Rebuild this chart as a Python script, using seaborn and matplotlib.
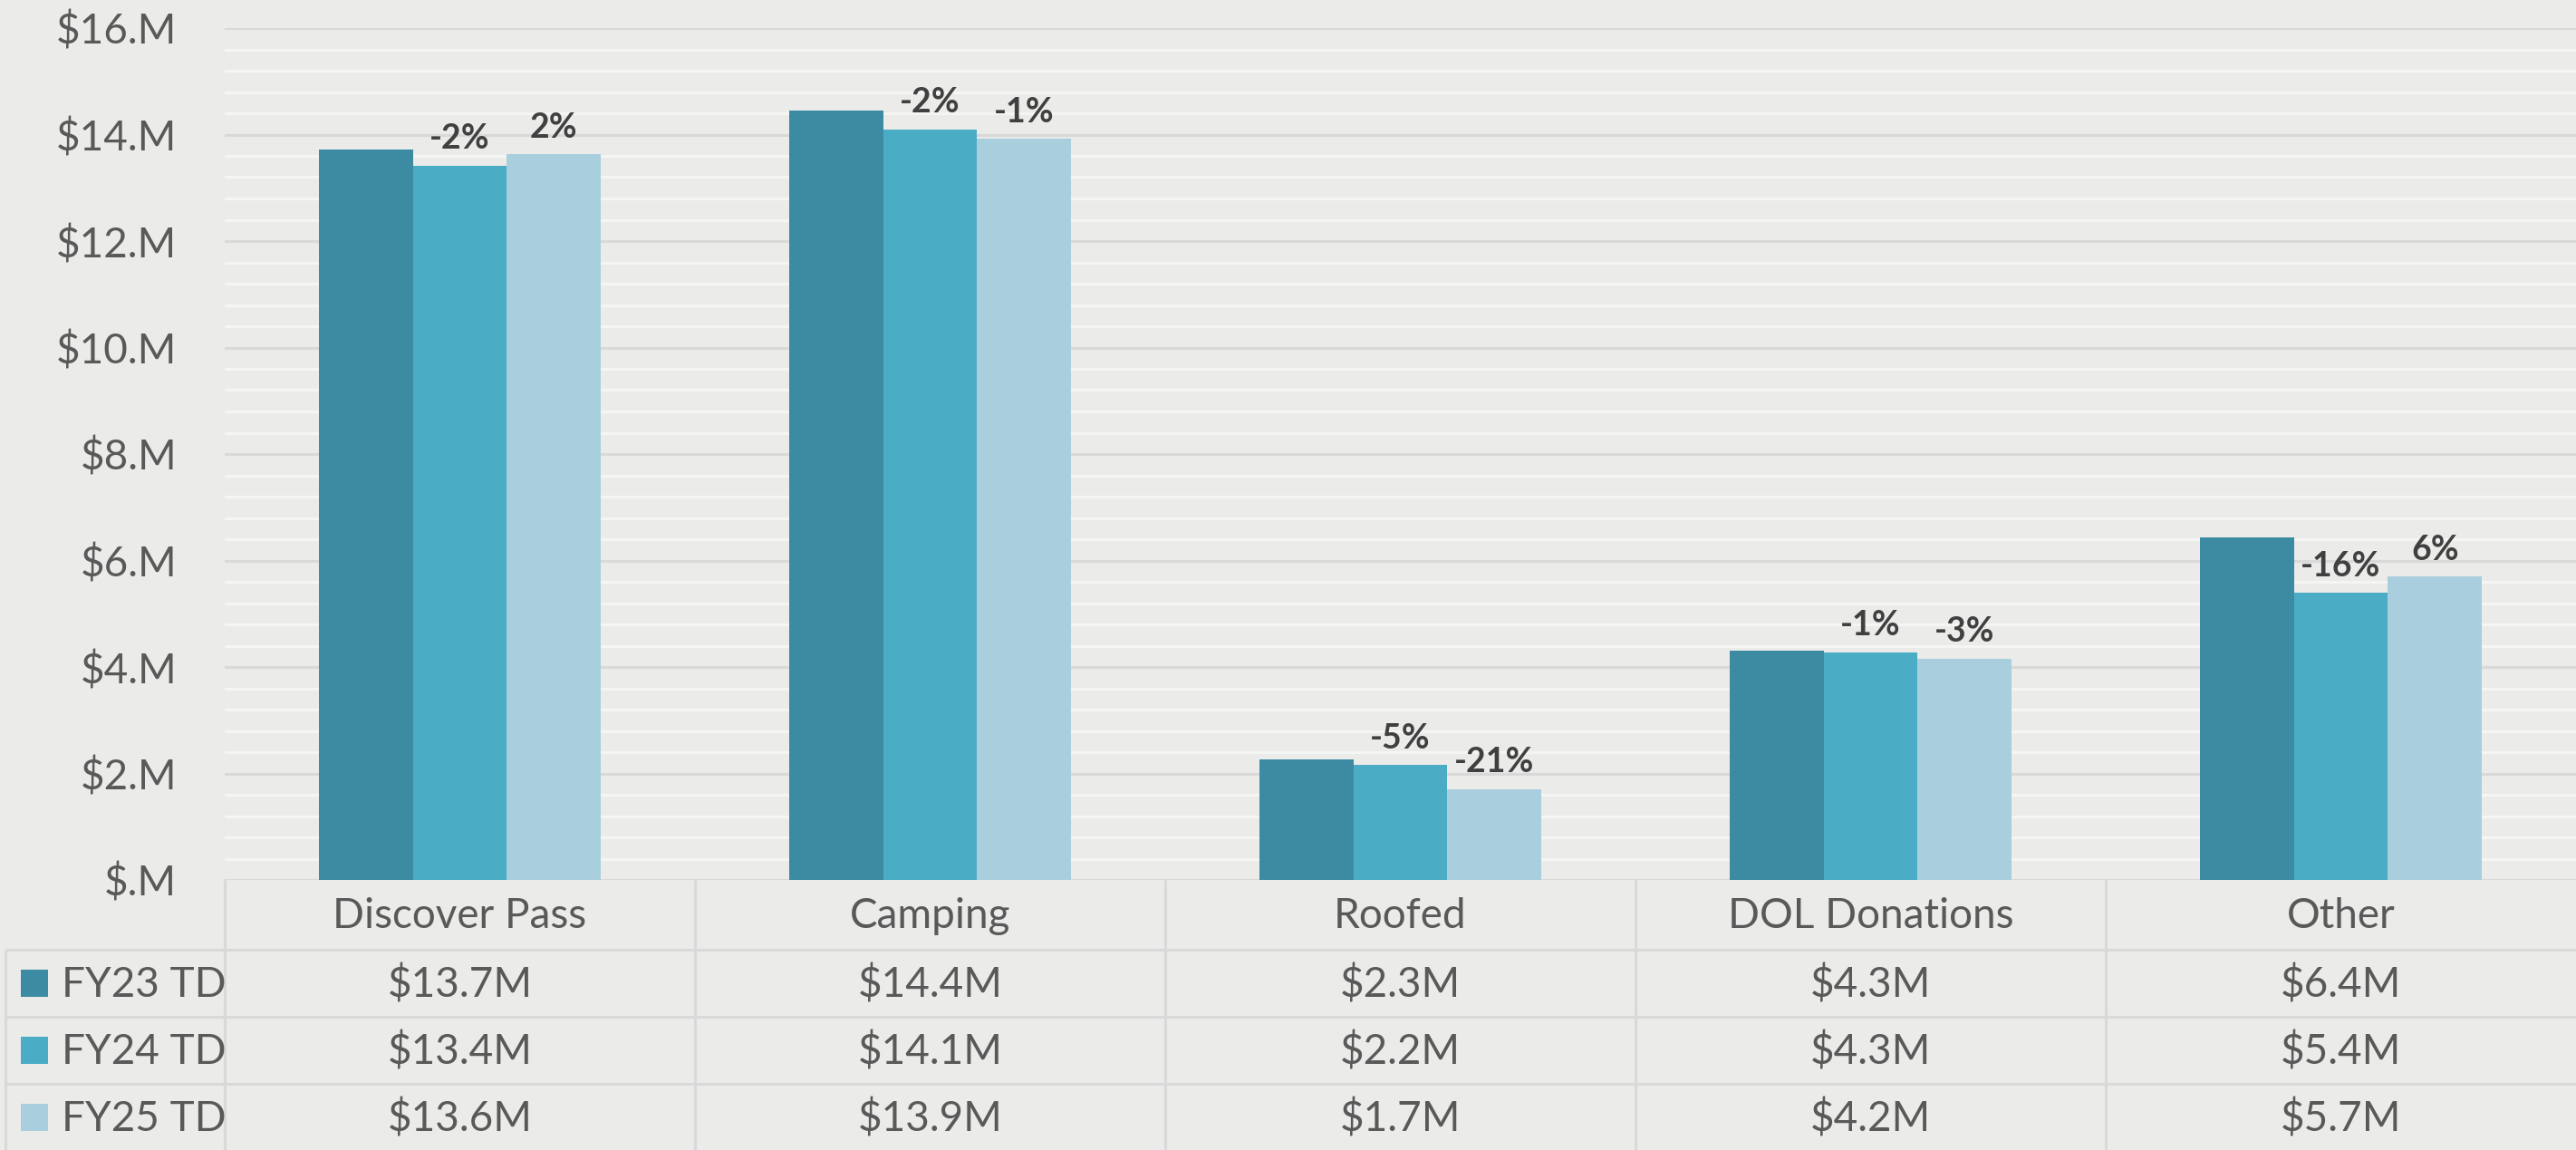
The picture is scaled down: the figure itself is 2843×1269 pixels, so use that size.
"""
Revenue by category, FY23-FY25 to date, with an Excel-style data table underneath.
"""
import matplotlib
matplotlib.use("Agg")
import matplotlib.pyplot as plt
from matplotlib.ticker import MultipleLocator, FuncFormatter
from matplotlib.patches import Rectangle
import pandas as pd
import seaborn as sns

CATEGORIES = ["Discover Pass", "Camping", "Roofed", "DOL Donations", "Other"]
SERIES = ["FY23 TD", "FY24 TD", "FY25 TD"]

FY23 = [13.72, 14.45, 2.27, 4.31, 6.43]
FY24 = [13.42, 14.10, 2.16, 4.28, 5.39]
FY25 = [13.63, 13.92, 1.71, 4.16, 5.70]

PCT_FY24 = ["-2%", "-2%", "-5%", "-1%", "-16%"]
PCT_FY25 = ["2%", "-1%", "-21%", "-3%", "6%"]

COLORS = {"FY23 TD": "#3C8BA3", "FY24 TD": "#4BACC6", "FY25 TD": "#A9CEDD"}
BG = "#EBEBE9"
GRID_MAJOR = "#D9D9D9"
GRID_MINOR = "#F5F5F4"
TEXT = "#595959"
BOLD_TEXT = "#404040"

# layout in output pixels (dpi 100)
W, H = 2843, 1269
PLOT_LEFT = 248
PLOT_TOP = 31
ZERO_Y = 971
HEADER_BOTTOM = 1048
ROW_H = 74
LABEL_COL_LEFT = 6


def main():
    sns.set_theme(style="white")
    plt.rcParams["font.family"] = ["Lato", "DejaVu Sans"]

    values = {"FY23 TD": FY23, "FY24 TD": FY24, "FY25 TD": FY25}
    df = pd.DataFrame(
        [(c, s, values[s][i]) for s in SERIES for i, c in enumerate(CATEGORIES)],
        columns=["category", "series", "value"],
    )

    fig = plt.figure(figsize=(W / 100, H / 100), dpi=100, facecolor=BG)
    ax = fig.add_axes([PLOT_LEFT / W, (H - ZERO_Y) / H,
                       (W - PLOT_LEFT) / W, (ZERO_Y - PLOT_TOP) / H])
    ax.set_facecolor(BG)

    sns.barplot(data=df, x="category", y="value", hue="series",
                order=CATEGORIES, hue_order=SERIES, palette=COLORS,
                width=0.6, linewidth=0, saturation=1, legend=False, ax=ax)

    ax.set_xlim(-0.5, len(CATEGORIES) - 0.5)
    ax.set_ylim(0, 16)
    ax.yaxis.set_major_locator(MultipleLocator(2))
    ax.yaxis.set_minor_locator(MultipleLocator(0.4))
    ax.yaxis.set_major_formatter(FuncFormatter(lambda v, _: f"${v:.0f}.M" if v else "$.M"))
    ax.grid(which="major", axis="y", color=GRID_MAJOR, linewidth=2.2)
    ax.grid(which="minor", axis="y", color=GRID_MINOR, linewidth=2.2)
    ax.grid(False, axis="x")
    ax.set_axisbelow(True)
    for sp in ax.spines.values():
        sp.set_visible(False)
    ax.tick_params(axis="y", which="both", length=0, pad=38, labelsize=33, labelcolor=TEXT)
    ax.tick_params(axis="x", length=0, labelbottom=False)
    ax.set_xlabel("")
    ax.set_ylabel("")

    # percent-change labels over FY24 and FY25 bars
    ax.bar_label(ax.containers[1], labels=PCT_FY24, padding=9,
                 fontsize=27, fontweight="bold", color=BOLD_TEXT)
    ax.bar_label(ax.containers[2], labels=PCT_FY25, padding=9,
                 fontsize=27, fontweight="bold", color=BOLD_TEXT)

    # --- data table drawn in pixel coordinates over the whole figure ---
    tax = fig.add_axes([0, 0, 1, 1], zorder=-1)
    tax.set_xlim(0, W)
    tax.set_ylim(H, 0)
    tax.axis("off")
    tax.patch.set_visible(False)

    col_w = (W - PLOT_LEFT) / len(CATEGORIES)
    line_kw = dict(color=GRID_MAJOR, linewidth=2.2, solid_capstyle="butt")

    for i in range(len(CATEGORIES)):
        x = PLOT_LEFT + i * col_w
        tax.plot([x, x], [ZERO_Y, H], **line_kw)
    tax.plot([LABEL_COL_LEFT, LABEL_COL_LEFT], [HEADER_BOTTOM, H], **line_kw)
    for r in range(len(SERIES)):
        y = HEADER_BOTTOM + r * ROW_H
        tax.plot([LABEL_COL_LEFT, W], [y, y], **line_kw)

    header_mid = (ZERO_Y + HEADER_BOTTOM) / 2
    for i, cat in enumerate(CATEGORIES):
        cx = PLOT_LEFT + (i + 0.5) * col_w
        tax.text(cx, header_mid + 2, cat, ha="center", va="center",
                 fontsize=33, color=TEXT)

    for r, s in enumerate(SERIES):
        ym = HEADER_BOTTOM + (r + 0.5) * ROW_H
        tax.add_patch(Rectangle((23, ym - 15), 30, 30, color=COLORS[s], linewidth=0))
        tax.text(68, ym + 2, s, ha="left", va="center", fontsize=33, color=TEXT)
        for i, v in enumerate(values[s]):
            cx = PLOT_LEFT + (i + 0.5) * col_w
            tax.text(cx, ym + 2, f"${v:.1f}M", ha="center", va="center",
                     fontsize=33, color=TEXT)

    fig.savefig("out.png", dpi=100, facecolor=BG)


if __name__ == "__main__":
    main()
